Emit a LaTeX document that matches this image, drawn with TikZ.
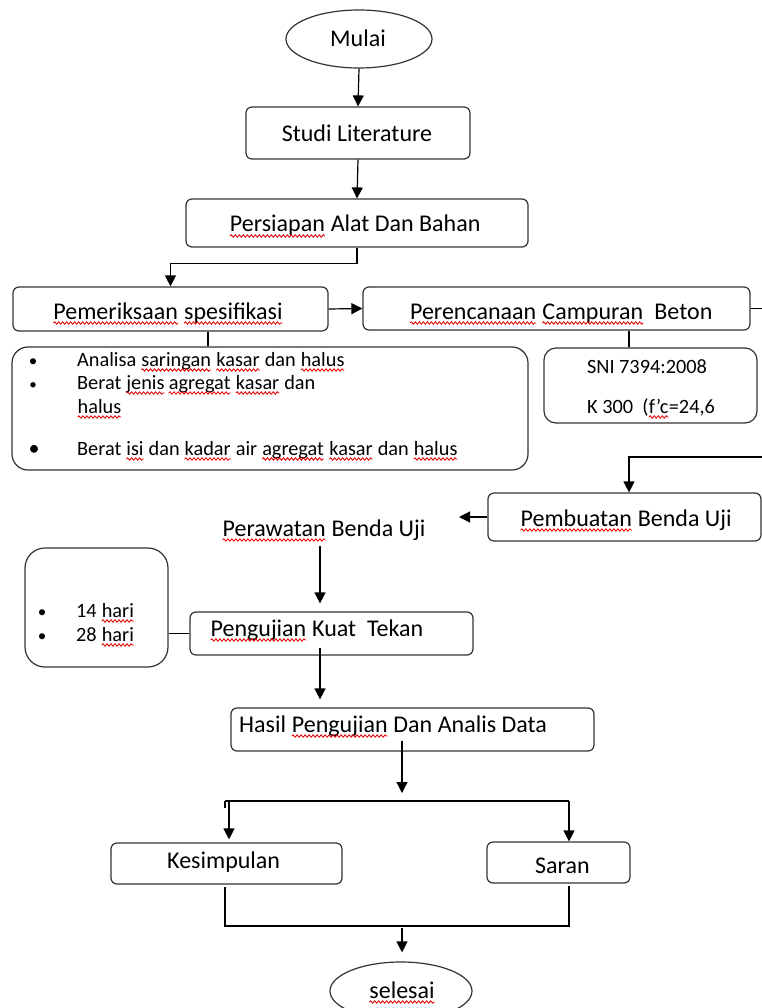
\documentclass[tikz,border=0pt]{standalone}
\usepackage{fontspec}
\setmainfont{Carlito}
\usetikzlibrary{arrows.meta,shapes.geometric,decorations.pathmorphing}
\newcommand\sqw[1]{\tikz[baseline=(w.base)]{\node[inner sep=0pt,outer sep=0pt,anchor=base] (w) at (0,0) {#1};
  \draw[red!90!black, line width=0.85pt, decorate, decoration={snake, amplitude=1.2pt, segment length=4pt}]
    ([yshift=-4pt]w.base west) -- ([yshift=-4pt]w.base east);}}
\begin{document}
\begin{tikzpicture}[x=1pt,y=-1pt,
  box/.style={draw=black!80, line width=1.2pt, rounded corners=6pt, inner sep=0pt},
  oval/.style={draw=black!80, line width=1.2pt, ellipse, inner sep=0pt},
  big/.style={font=\fontsize{24}{26}\selectfont, inner sep=0pt, text=black},
  small/.style={font=\fontsize{20.3}{22}\selectfont, inner sep=0pt, text=black},
  ln/.style={line width=1.2pt, black},
  arr/.style={ln, -{Triangle[length=11pt,width=11pt]}}]
\useasboundingbox (0,0) rectangle (762,1008);
\fill[white] (0,0) rectangle (762,1008);
\clip (0,0) rectangle (762,1008);
% helper x coordinates
\coordinate (x208) at (208,0);
\coordinate (x320) at (320,0);
\coordinate (x402) at (402,0);
\coordinate (x459) at (459,0);
\coordinate (x629) at (629,0);
\coordinate (x229) at (229,0);
\coordinate (x225) at (225,0);
\coordinate (x569) at (569,0);
% shapes
\node[oval, minimum width=146pt, minimum height=58pt] (mulai) at (359,39) {};
\node[box, minimum width=224pt, minimum height=52pt] (studi) at (358,133) {};
\node[box, minimum width=342pt, minimum height=48pt] (persiapan) at (357,223) {};
\node[box, minimum width=315pt, minimum height=44pt] (pemeriksaan) at (170.5,309) {};
\node[box, minimum width=387pt, minimum height=43pt] (perencanaan) at (556.5,308.5) {};
\node[box, rounded corners=16pt, minimum width=516pt, minimum height=123pt] (bullets) at (270,408.5) {};
\node[box, rounded corners=12pt, minimum width=213pt, minimum height=75pt] (sni) at (650.5,385.5) {};
\node[box, minimum width=273pt, minimum height=48pt] (pembuatan) at (624.5,517) {};
\node[box, rounded corners=20pt, minimum width=143pt, minimum height=119pt] (days) at (96.5,607.5) {};
\node[box, minimum width=283pt, minimum height=43pt] (pengujian) at (331.5,633.5) {};
\node[box, minimum width=363pt, minimum height=43pt] (hasil) at (412.5,729.5) {};
\node[box, minimum width=231pt, minimum height=41pt] (kesimpulan) at (226.5,863.5) {};
\node[box, minimum width=143pt, minimum height=41pt] (saran) at (558.5,862.5) {};
\node[oval, minimum width=142pt, minimum height=58pt] (selesai) at (401,991) {};
% texts
\node[big, anchor=base] (tmulai) at (358,47) {Mulai};
\node[big, anchor=base] (tstudi) at (357,142) {Studi Literature};
\node[big, anchor=base] (tpersiapan) at (355,232) {\sqw{Persiapan} Alat Dan Bahan};
\node[big, anchor=base] (tpemeriksaan) at (168,319) {\sqw{Pemeriksaan} \sqw{spesifikasi}};
\node[big, anchor=base] (tperencanaan) at (561,319) {\sqw{Perencanaan} \sqw{Campuran}\ \ Beton};
\node[small, anchor=base, font=\fontsize{17}{20}\selectfont] (b1) at (33,366) {•};
\node[small, anchor=base west] (t1) at (77,366) {Analisa \sqw{saringan} \sqw{kasar} dan \sqw{halus}};
\node[small, anchor=base, font=\fontsize{15}{20}\selectfont] (b2) at (33,389) {•};
\node[small, anchor=base west] (t2) at (77,389) {Berat \sqw{jenis}\,\sqw{agregat} \sqw{kasar} dan};
\node[small, anchor=base west] (t2b) at (77,413) {\sqw{halus}};
\node[small, anchor=base, font=\fontsize{22}{24}\selectfont] (b3) at (34,455) {•};
\node[small, anchor=base west] (t3) at (77,455) {Berat \sqw{isi} dan \sqw{kadar} air \sqw{agregat} \sqw{kasar} dan \sqw{halus}};
\node[small, anchor=base] (tsni) at (647,373) {SNI 7394:2008};
\node[small, anchor=base west] (tk) at (587,413) {K 300\ \ (\sqw{f’c}=24,6};
\node[big, anchor=base west] (tpembuatan) at (520,526) {\sqw{Pembuatan} Benda Uji};
\node[big, anchor=base west] (perawatan) at (222,536) {\sqw{Perawatan} Benda Uji};
\node[small, anchor=base, font=\fontsize{17}{20}\selectfont] (b4) at (42,617) {•};
\node[small, anchor=base west] (t4) at (76,617) {14 \sqw{hari}};
\node[small, anchor=base, font=\fontsize{17}{20}\selectfont] (b5) at (42,641) {•};
\node[small, anchor=base west] (t5) at (76,641) {28 \sqw{hari}};
\node[big, anchor=base west] (tpengujian) at (210,636) {\sqw{Pengujian} Kuat\ \ Tekan};
\node[big, anchor=base west] (thasil) at (239,732) {Hasil \sqw{Pengujian} Dan Analis Data};
\node[big, anchor=base west] (tkesimpulan) at (167,868) {Kesimpulan};
\node[big, anchor=base west] (tsaran) at (535,873) {Saran};
\node[big, anchor=base] (tselesai) at (402,998) {\sqw{selesai}};
% off-canvas ends
\coordinate (edgeA) at (775,308.5);
\coordinate (edgeB) at (775,457);
\coordinate (split) at (402,801);
\coordinate (join) at (402,926);
% connectors
\draw[arr] (mulai.south) -- (studi.north);
\draw[arr] (studi.south) -- (persiapan.north);
\draw[arr] (persiapan.south) -- ++(0,16) -| (pemeriksaan.north);
\draw[arr] (pemeriksaan.east) -- (perencanaan.west);
\draw[ln] (perencanaan.east) -- (edgeA);
\draw[ln] (pemeriksaan.south -| x208) -- (bullets.north -| x208);
\draw[ln] (perencanaan.south -| x629) -- (sni.north -| x629);
\draw[arr] (edgeB) -| (pembuatan.north -| x629);
\draw[arr] (pembuatan.west) -- (pembuatan.west -| x459);
\draw[arr, shorten <=4pt, shorten >=8pt] (perawatan.south -| x320) -- (pengujian.north -| x320);
\draw[ln] (days.east |- pengujian.west) -- (pengujian.west);
\draw[arr, shorten <=-8pt, shorten >=8pt] (pengujian.south -| x320) -- (hasil.north -| x320);
\draw[arr, shorten <=-11pt, shorten >=8pt] (hasil.south -| x402) -- (split);
\draw[ln] (split -| x225) -- ++(0,7);
\draw[ln] (split -| x225) -- (split -| x569);
\draw[arr, shorten >=3pt] (split -| x229) -- (kesimpulan.north -| x229);
\draw[arr] (split -| x569) -- (saran.north -| x569);
\draw[ln] (kesimpulan.south -| x225) ++(0,2) |- (join -| x569) -- ([yshift=-2pt]saran.south -| x569);
\draw[arr, shorten <=2pt, shorten >=9pt] (join -| x402) -- (selesai.north -| x402);
\end{tikzpicture}
\end{document}
